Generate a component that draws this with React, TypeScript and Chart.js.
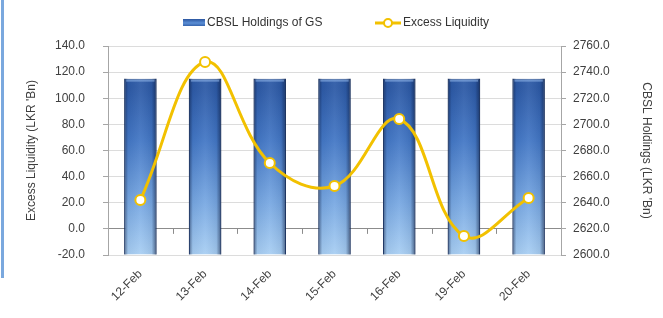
import React, { useEffect, useRef } from "react";
import { Chart, registerables } from "chart.js";

Chart.register(...registerables);

const categories = ["12-Feb", "13-Feb", "14-Feb", "15-Feb", "16-Feb", "19-Feb", "20-Feb"];
const cbslHoldings = [2735, 2735, 2735, 2735, 2735, 2735, 2735];
const excessLiquidity = [22.1, 127.7, 50.4, 32.8, 84.1, -5.5, 23.6];
const leftAxisRange = [-20, 140];
const rightAxisRange = [2600, 2760];
const axisStep = 20;
const seriesNames = ["CBSL Holdings of GS", "Excess Liquidity"];
const axisTitles = ["Excess Liquidity (LKR 'Bn)", "CBSL Holdings (LKR 'Bn)"];

const FONT = '"Liberation Sans", Arial, sans-serif';
const TEXT = "#404040";
const GOLD = "#F2C100";

const barShade = {
  id: "barShade",
  afterDatasetDraw(chart: any, args: any) {
    if (args.index !== 0) return;
    const ctx = chart.ctx;
    const meta = chart.getDatasetMeta(0);
    ctx.save();
    meta.data.forEach((el: any) => {
      const { x, y, base, width } = el.getProps(["x", "y", "base", "width"], true);
      const l = x - width / 2;
      const g = ctx.createLinearGradient(l, 0, l + width, 0);
      g.addColorStop(0, "rgba(10,25,60,0.55)");
      g.addColorStop(0.12, "rgba(10,25,60,0.05)");
      g.addColorStop(0.5, "rgba(255,255,255,0.06)");
      g.addColorStop(0.85, "rgba(10,25,60,0.08)");
      g.addColorStop(1, "rgba(10,25,60,0.6)");
      ctx.fillStyle = g;
      ctx.fillRect(l, y, width, base - y);
      ctx.fillStyle = "rgba(150,185,235,0.55)";
      ctx.fillRect(l + 2, y + 1, width - 4, 2);
    });
    ctx.restore();
  },
};

const zeroTicks = {
  id: "zeroTicks",
  beforeDatasetsDraw(chart: any) {
    const x = chart.scales.x;
    const y = chart.scales.y;
    const yz = y.getPixelForValue(0);
    const ctx = chart.ctx;
    ctx.save();
    ctx.strokeStyle = "#8c8c8c";
    ctx.lineWidth = 1;
    ctx.beginPath();
    for (let i = 0; i < categories.length - 1; i++) {
      const px = Math.round((x.getPixelForTick(i) + x.getPixelForTick(i + 1)) / 2) + 0.5;
      ctx.moveTo(px, yz);
      ctx.lineTo(px, yz + 5);
    }
    ctx.stroke();
    ctx.restore();
  },
};

const customLegend = {
  id: "customLegend",
  afterDraw(chart: any) {
    const ctx = chart.ctx;
    const cy = 23;
    ctx.save();
    const g = ctx.createLinearGradient(0, cy - 4, 0, cy + 4);
    g.addColorStop(0, "#2a559f");
    g.addColorStop(0.5, "#5b8fd6");
    g.addColorStop(1, "#2a559f");
    ctx.fillStyle = g;
    ctx.fillRect(183, cy - 4, 22, 7);
    ctx.font = `12px ${FONT}`;
    ctx.fillStyle = "#333333";
    ctx.textBaseline = "middle";
    ctx.textAlign = "left";
    ctx.fillText(seriesNames[0], 207, cy);
    ctx.strokeStyle = GOLD;
    ctx.lineWidth = 3;
    ctx.beginPath();
    ctx.moveTo(375, cy);
    ctx.lineTo(401, cy);
    ctx.stroke();
    ctx.beginPath();
    ctx.arc(388, cy, 4, 0, Math.PI * 2);
    ctx.fillStyle = "#ffffff";
    ctx.fill();
    ctx.lineWidth = 2;
    ctx.stroke();
    ctx.fillStyle = "#333333";
    ctx.fillText(seriesNames[1], 403, cy);
    ctx.restore();
  },
};

export default function App() {
  const ref = useRef<HTMLCanvasElement | null>(null);

  useEffect(() => {
    if (!ref.current) return;
    const chart = new Chart(ref.current, {
      type: "bar",
      data: {
        labels: categories,
        datasets: [
          {
            type: "bar",
            label: seriesNames[0],
            data: cbslHoldings,
            yAxisID: "y1",
            order: 1,
            base: rightAxisRange[0],
            barPercentage: 0.5,
            categoryPercentage: 1,
            borderWidth: 1,
            borderColor: "#274a85",
            backgroundColor: (c: any) => {
              const ca = c.chart.chartArea;
              if (!ca) return "#3a6bc0";
              const g = c.chart.ctx.createLinearGradient(0, ca.top, 0, ca.bottom);
              g.addColorStop(0, "#2f5ca8");
              g.addColorStop(0.2, "#2d5aa6");
              g.addColorStop(0.45, "#4377c5");
              g.addColorStop(0.75, "#78a8e2");
              g.addColorStop(1, "#a9cff3");
              return g;
            },
          },
          {
            type: "line",
            label: seriesNames[1],
            data: excessLiquidity,
            yAxisID: "y",
            order: 0,
            borderColor: GOLD,
            borderWidth: 3,
            tension: 0.4,
            pointRadius: 5,
            pointBackgroundColor: "#ffffff",
            pointBorderColor: GOLD,
            pointBorderWidth: 2,
          },
        ],
      } as any,
      options: {
        responsive: false,
        animation: false,
        layout: { padding: { top: 46, left: 0, right: 0, bottom: 0 } },
        plugins: { legend: { display: false }, tooltip: { enabled: false } },
        scales: {
          x: {
            grid: { display: false, drawTicks: false },
            border: { display: false },
            ticks: {
              minRotation: 45,
              maxRotation: 45,
              padding: 12,
              color: TEXT,
              font: { family: FONT, size: 12 },
            },
            afterFit: (s: any) => {
              s.height = 63;
            },
          },
          y: {
            position: "left",
            min: leftAxisRange[0],
            max: leftAxisRange[1],
            ticks: {
              stepSize: axisStep,
              padding: 18,
              color: TEXT,
              font: { family: FONT, size: 12 },
              callback: (v: any) => Number(v).toFixed(1),
            },
            grid: {
              color: (c: any) => (c.tick && c.tick.value === 0 ? "#8c8c8c" : "#dcdcdc"),
              tickLength: 5,
              tickColor: "#a6a6a6",
            },
            border: { color: "#a6a6a6" },
            title: {
              display: true,
              text: axisTitles[0],
              color: TEXT,
              font: { family: FONT, size: 12 },
              padding: { top: 24, bottom: 0 },
            },
            afterFit: (s: any) => {
              s.width = 108;
            },
          },
          y1: {
            position: "right",
            min: rightAxisRange[0],
            max: rightAxisRange[1],
            ticks: {
              stepSize: axisStep,
              padding: 7,
              color: TEXT,
              font: { family: FONT, size: 12 },
              callback: (v: any) => Number(v).toFixed(1),
            },
            grid: { drawOnChartArea: false, tickLength: 5, tickColor: "#a6a6a6" },
            border: { color: "#a6a6a6" },
            title: {
              display: true,
              text: axisTitles[1],
              color: TEXT,
              font: { family: FONT, size: 12 },
              padding: { top: 9, bottom: 0 },
            },
            afterFit: (s: any) => {
              s.width = 102;
            },
          },
        },
      } as any,
      plugins: [barShade, zeroTicks, customLegend],
    });
    return () => chart.destroy();
  }, []);

  return (
    <div style={{ position: "fixed", left: 0, top: 0, width: 663, height: 318, background: "#fff" }}>
      <div style={{ position: "absolute", left: 1, top: 0, width: 3, height: 278, background: "#7aa8de" }} />
      <canvas ref={ref} width={663} height={318} style={{ display: "block" }} />
    </div>
  );
}
